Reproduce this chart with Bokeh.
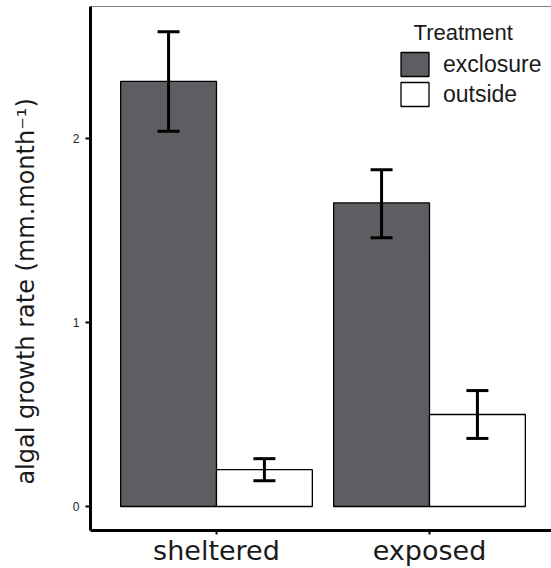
import numpy as np
from bokeh.plotting import figure
from bokeh.models import (ColumnDataSource, Whisker, TeeHead, Legend, LegendItem,
                          Label, Span, FixedTicker, Range1d)
from bokeh.embed import file_html
from bokeh.resources import INLINE

# ---- data ----
sites = ["sheltered", "exposed"]
treatments = ["exclosure", "outside"]
exclosure_mean = [2.31, 1.65]
exclosure_upper = [2.58, 1.83]
exclosure_lower = [2.04, 1.46]
outside_mean = [0.20, 0.50]
outside_upper = [0.26, 0.63]
outside_lower = [0.14, 0.37]
y_ticks = [0, 1, 2]
y_title = "algal growth rate (mm.month\u207b\u00b9)"

site_pos = [1, 2]
dodge_w = 0.225
bar_w = 0.45

src_exc = ColumnDataSource(dict(
    x=[s - dodge_w for s in site_pos], top=exclosure_mean,
    upper=exclosure_upper, lower=exclosure_lower))
src_out = ColumnDataSource(dict(
    x=[s + dodge_w for s in site_pos], top=outside_mean,
    upper=outside_upper, lower=outside_lower))

p = figure(width=551, height=568, output_backend="svg", toolbar_location=None,
           x_range=Range1d(0.4085, 2.5728), y_range=Range1d(-0.1304, 2.7174),
           min_border_left=90, min_border_right=0, min_border_top=6,
           min_border_bottom=38)
p.grid.visible = False
p.outline_line_color = None
p.background_fill_color = "white"

r_exc = p.vbar(x="x", top="top", bottom=0, width=bar_w, source=src_exc,
               fill_color="#5d5e62", line_color="black", line_width=1.3)
r_out = p.vbar(x="x", top="top", bottom=0, width=bar_w, source=src_out,
               fill_color="white", line_color="black", line_width=1.3)

for src in (src_exc, src_out):
    w = Whisker(source=src, base="x", upper="upper", lower="lower",
                dimension="height", line_width=3, line_color="black",
                upper_head=TeeHead(size=22, line_width=3, line_color="black"),
                lower_head=TeeHead(size=22, line_width=3, line_color="black"),
                level="overlay")
    p.add_layout(w)

p.add_layout(Span(location=2.7174, dimension="width", line_color="black", line_width=1))

# axes
p.yaxis.ticker = FixedTicker(ticks=y_ticks)
p.yaxis.minor_tick_line_color = None
p.yaxis.axis_line_width = 3
p.yaxis.axis_line_color = "black"
p.yaxis.major_tick_out = 5
p.yaxis.major_tick_in = 0
p.yaxis.major_tick_line_width = 2
p.yaxis.major_label_text_font = "Liberation Sans"
p.yaxis.major_label_text_font_size = "12px"
p.yaxis.major_label_text_color = "#222222"
p.yaxis.major_label_standoff = 6
p.yaxis.axis_label = y_title + "\u00a0" * 6
p.yaxis.axis_label_text_font = "DejaVu Sans"
p.yaxis.axis_label_text_font_size = "24px"
p.yaxis.axis_label_text_font_style = "normal"
p.yaxis.axis_label_text_color = "#1a1a1a"
p.yaxis.axis_label_standoff = 30

p.xaxis.ticker = FixedTicker(ticks=site_pos)
p.xaxis.major_label_overrides = {site_pos[i]: sites[i] for i in range(len(sites))}
p.xaxis.minor_tick_line_color = None
p.xaxis.axis_line_width = 3
p.xaxis.axis_line_color = "black"
p.xaxis.major_tick_out = 4
p.xaxis.major_tick_in = 0
p.xaxis.major_tick_line_width = 2
p.xaxis.major_label_text_font = "DejaVu Sans"
p.xaxis.major_label_text_font_size = "27px"
p.xaxis.major_label_text_color = "#1a1a1a"
p.xaxis.major_label_standoff = 0

# legend
legend = Legend(items=[LegendItem(label=treatments[0], renderers=[r_exc]),
                       LegendItem(label=treatments[1], renderers=[r_out])],
                location=(307, 421), glyph_width=35, glyph_height=30,
                label_height=30, spacing=0, padding=0, margin=0,
                border_line_color=None, background_fill_alpha=0,
                label_text_font="Liberation Sans", label_text_font_size="23px",
                label_text_color="#1a1a1a", label_standoff=11)
p.add_layout(legend)
p.add_layout(Label(x=1.925, y=2.576, text="Treatment", text_align="left",
                   text_baseline="middle", text_font="Liberation Sans",
                   text_font_size="22px", text_color="#1a1a1a"))

open("out.html", "w").write(file_html(p, INLINE))
